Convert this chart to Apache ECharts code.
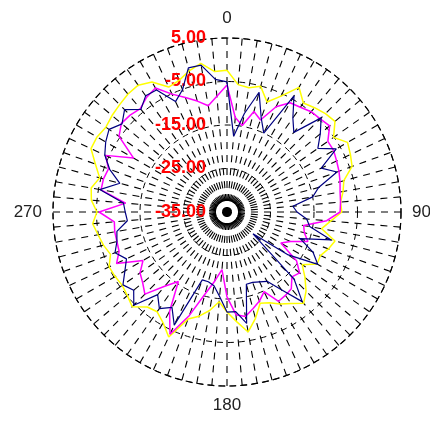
<!DOCTYPE html>
<html>
<head>
<meta charset="utf-8">
<script src="https://cdn.jsdelivr.net/npm/echarts@6/dist/echarts.min.js"></script>
<style>
html,body{margin:0;padding:0;background:#fff;}
#chart{width:430px;height:424px;}
</style>
</head>
<body>
<div id="chart"></div>
<script>
// Angles (degrees) at which each series is sampled
var angles = [0,5,10,15,20,25,30,35,40,45,50,55,60,65,70,75,80,85,90,95,100,105,110,115,120,125,130,135,140,145,150,155,160,165,170,175,180,185,190,195,200,205,210,215,220,225,230,235,240,245,250,255,260,265,270,275,280,285,290,295,300,305,310,315,320,325,330,335,340,345,350,355];

var yellowValues = [-2.4,-5.6,-6.0,-5.1,-8.1,-5.6,-1.9,-4.4,-3.7,-3.0,-2.6,-5.1,-3.0,-3.7,-4.4,-7.2,-7.9,-8.8,-8.6,-11.1,-12.9,-9.3,-10.2,-11.3,-11.1,-13.9,-11.6,-9.3,-7.6,-9.3,-10.6,-12.0,-12.7,-9.7,-7.0,-9.7,-12.0,-14.3,-12.0,-10.2,-8.8,-3.3,-5.6,-7.0,-6.5,-4.2,-5.1,-5.6,-5.3,-5.1,-6.5,-5.6,-4.9,-4.0,-5.1,-3.7,-3.3,-4.7,-2.8,-0.5,-0.5,-1.0,-0.5,-0.1,0.4,0.6,-0.5,-3.3,-2.8,-1.4,-0.3,-2.6];

var magentaValues = [-5.8,-13.2,-14.8,-11.1,-12.5,-8.3,-6.0,-5.6,-4.9,-4.7,-4.2,-6.7,-6.7,-7.2,-7.6,-8.1,-8.6,-8.8,-9.0,-12.0,-17.1,-16.6,-15.2,-18.9,-20.7,-15.5,-13.2,-13.9,-12.0,-11.6,-11.3,-14.8,-13.2,-12.0,-10.6,-11.3,-15.5,-21.7,-18.9,-15.5,-9.7,-4.0,-8.6,-15.5,-12.7,-8.3,-9.7,-10.6,-12.7,-7.0,-8.6,-8.8,-8.8,-9.0,-5.6,-11.6,-5.6,-5.6,-6.0,-4.2,-10.2,-4.7,-3.3,-3.5,-4.0,-2.8,-2.1,-5.1,-7.0,-8.6,-10.2,-8.3];

var blueValues = [-5.1,-17.5,-12.0,-6.5,-12.0,-15.0,-4.2,-8.6,-11.1,-4.4,-7.0,-9.5,-6.0,-11.1,-8.1,-13.2,-15.0,-19.8,-18.9,-16.6,-15.7,-10.2,-17.1,-13.2,-10.9,-17.8,-27.2,-13.2,-8.1,-13.2,-16.6,-17.3,-17.8,-17.8,-9.0,-12.0,-12.0,-15.5,-17.8,-18.4,-18.4,-6.3,-9.7,-7.9,-10.2,-4.7,-7.0,-5.8,-7.9,-9.5,-7.6,-8.8,-9.3,-12.0,-11.6,-11.1,-5.3,-9.5,-6.3,-4.0,-2.8,-1.9,-3.5,-1.7,-4.2,-2.4,-2.6,-7.0,-5.1,-0.7,-0.7,-4.4];

var radiusMin = -35, radiusMax = 5, radiusStep = 10;
var angleLabels = [0, 90, 180, 270];

function toPairs(vals) {
  var out = vals.map(function (v, i) { return [v, angles[i]]; });
  out.push([vals[0], 360]);
  return out;
}

var chart = echarts.init(document.getElementById('chart'), null, {renderer: 'canvas'});
chart.setOption({
  animation: false,
  backgroundColor: '#ffffff',
  polar: { center: [227, 212], radius: 174 },
  angleAxis: {
    type: 'value', min: 0, max: 360, interval: 5,
    startAngle: 90, clockwise: true,
    axisLine: { show: true, lineStyle: { color: '#000', width: 1.2, type: [7, 4] } },
    axisTick: { show: false },
    axisLabel: {
      show: true, margin: 11, color: '#222', fontSize: 17,
      fontFamily: 'Liberation Sans, Arial, sans-serif',
      formatter: function (v) { return angleLabels.indexOf(v) >= 0 ? String(v) : ''; }
    },
    splitLine: { show: true, lineStyle: { color: '#000', width: 1.1, type: [7, 6] } }
  },
  radiusAxis: {
    type: 'value', min: radiusMin, max: radiusMax, interval: radiusStep,
    axisLine: { show: false },
    axisTick: { show: false },
    axisLabel: {
      show: true, margin: 21, color: '#ff0000', fontSize: 18, fontWeight: 'bold',
      fontFamily: 'Liberation Sans, Arial, sans-serif',
      showMinLabel: true, showMaxLabel: true,
      formatter: function (v) { return v.toFixed(2); }
    },
    splitLine: { show: true, lineStyle: { color: '#000', width: 1, type: [6, 5] } }
  },
  series: [
    { type: 'line', coordinateSystem: 'polar', data: toPairs(yellowValues), showSymbol: false,
      lineStyle: { color: '#ffff00', width: 1.5 }, z: 3 },
    { type: 'line', coordinateSystem: 'polar', data: toPairs(magentaValues), showSymbol: false,
      lineStyle: { color: '#ff00ff', width: 1.5 }, z: 4 },
    { type: 'line', coordinateSystem: 'polar', data: toPairs(blueValues), showSymbol: false,
      lineStyle: { color: '#000080', width: 1.2 }, z: 5 }
  ]
});
</script>
</body>
</html>
